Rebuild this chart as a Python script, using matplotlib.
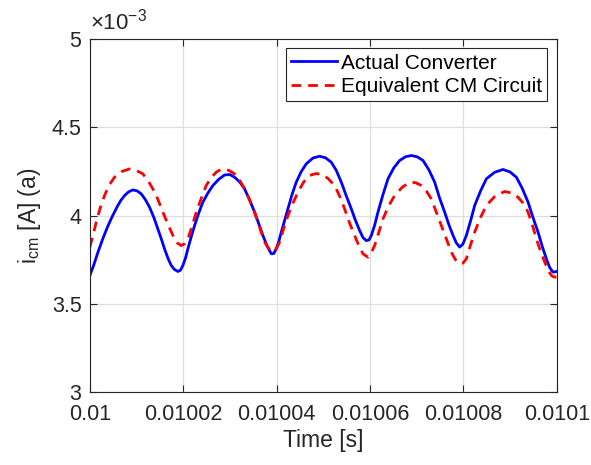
import matplotlib
matplotlib.use("Agg")
import matplotlib.pyplot as plt
import numpy as np
from matplotlib.ticker import FuncFormatter

plt.rcParams['font.family'] = ['Liberation Sans', 'DejaVu Sans']
plt.rcParams['mathtext.fontset'] = 'custom'
plt.rcParams['mathtext.rm'] = 'Liberation Sans'
plt.rcParams['mathtext.it'] = 'Liberation Sans'

# time offsets from 0.01 s in microseconds, currents in mA
t_actual_us = [0, 0.85, 1.71, 2.8, 3.86, 4.9, 6.0, 6.7, 7.43, 8.3, 9.21, 10.1, 11.0, 11.9,
               12.79, 13.7, 14.57, 15.3, 16.0, 16.7, 17.43, 18.1, 18.86, 19.4, 19.93, 20.5,
               21.0, 21.7, 22.43, 23.3, 24.21, 25.3, 26.36, 27.6, 28.86, 30.0, 31.0, 32.1,
               33.14, 34.2, 35.29, 36.2, 37.07, 38.0, 38.86, 39.4, 39.93, 40.5, 41.0, 41.7,
               42.43, 43.3, 44.21, 45.3, 46.36, 47.8, 49.21, 50.5, 51.71, 52.8, 53.86, 54.9,
               56.0, 56.9, 57.79, 58.5, 59.21, 59.8, 60.29, 61.0, 61.71, 62.8, 63.86, 65.1,
               66.36, 67.6, 68.86, 70.1, 71.36, 72.6, 73.86, 74.9, 76.0, 76.9, 77.79, 78.5,
               79.21, 79.9, 80.64, 81.5, 82.43, 83.7, 84.93, 86.7, 88.5, 90.0, 91.36, 92.6,
               93.86, 94.9, 96.0, 96.9, 97.79, 98.5, 99.21, 100]
i_actual_mA = [3.66, 3.72, 3.79, 3.87, 3.94, 4.0, 4.057, 4.088, 4.113, 4.134, 4.145, 4.14, 4.123, 4.09,
               4.047, 3.99, 3.924, 3.868, 3.811, 3.76, 3.717, 3.695, 3.683, 3.69, 3.717, 3.76,
               3.811, 3.878, 3.943, 4.012, 4.076, 4.128, 4.17, 4.205, 4.23, 4.232, 4.217, 4.19,
               4.151, 4.09, 4.019, 3.952, 3.887, 3.825, 3.783, 3.785, 3.811, 3.855, 3.906, 3.97,
               4.038, 4.118, 4.189, 4.25, 4.293, 4.326, 4.336, 4.327, 4.302, 4.255, 4.189, 4.113,
               4.038, 3.972, 3.915, 3.875, 3.858, 3.862, 3.887, 3.945, 4.019, 4.12, 4.208, 4.27,
               4.312, 4.333, 4.34, 4.333, 4.312, 4.26, 4.189, 4.10, 4.019, 3.948, 3.887, 3.845,
               3.821, 3.838, 3.887, 3.965, 4.057, 4.14, 4.208, 4.245, 4.261, 4.247, 4.217, 4.155,
               4.076, 3.99, 3.906, 3.825, 3.754, 3.705, 3.679, 3.683]

t_equiv_us = [0, 0.7, 1.36, 2.25, 3.14, 4.2, 5.29, 6.9, 8.5, 9.9, 11.36, 12.4, 13.5, 14.6,
              15.64, 16.7, 17.79, 18.7, 19.57, 20.3, 21.0, 21.9, 22.79, 23.9, 24.93, 26.0,
              27.07, 28.0, 28.86, 29.9, 31.0, 32.1, 33.14, 34.2, 35.29, 36.4, 37.43, 38.4,
              39.21, 39.9, 40.64, 41.5, 42.43, 43.5, 44.57, 45.8, 47.07, 48.3, 49.57, 51.0,
              52.43, 53.5, 54.57, 55.6, 56.71, 57.6, 58.5, 59.57, 60.3, 61.0, 61.9, 62.79,
              64.0, 65.29, 66.9, 68.5, 69.8, 71.0, 72.1, 73.14, 74.2, 75.29, 76.4, 77.43,
              78.3, 79.21, 79.9, 80.64, 81.5, 82.43, 83.7, 84.93, 86.9, 88.86, 90.3, 91.71,
              92.8, 93.86, 94.8, 95.64, 96.5, 97.43, 98.1, 98.86, 99.4, 100]
i_equiv_mA = [3.82, 3.89, 3.962, 4.045, 4.113, 4.175, 4.217, 4.25, 4.264, 4.256, 4.236, 4.2, 4.151, 4.09,
              4.019, 3.952, 3.887, 3.845, 3.83, 3.84, 3.868, 3.94, 4.019, 4.1, 4.17, 4.215,
              4.246, 4.26, 4.264, 4.254, 4.236, 4.2, 4.151, 4.09, 4.019, 3.93, 3.849, 3.81,
              3.792, 3.81, 3.849, 3.925, 4.0, 4.07, 4.132, 4.19, 4.227, 4.237, 4.236, 4.21,
              4.17, 4.11, 4.038, 3.96, 3.887, 3.83, 3.783, 3.764, 3.79, 3.83, 3.905, 3.981,
              4.055, 4.113, 4.16, 4.189, 4.186, 4.17, 4.138, 4.094, 4.02, 3.943, 3.865, 3.792,
              3.75, 3.726, 3.73, 3.754, 3.83, 3.906, 3.99, 4.057, 4.113, 4.136, 4.128, 4.104,
              4.07, 4.019, 3.945, 3.868, 3.80, 3.736, 3.695, 3.66, 3.652, 3.65]

x_ticks = [0.01, 0.01002, 0.01004, 0.01006, 0.01008, 0.0101]
x_tick_labels = ['0.01', '0.01002', '0.01004', '0.01006', '0.01008', '0.0101']
y_ticks = [3e-3, 3.5e-3, 4e-3, 4.5e-3, 5e-3]

t_actual = 0.01 + np.array(t_actual_us) * 1e-6
i_actual = np.array(i_actual_mA) * 1e-3
t_equiv = 0.01 + np.array(t_equiv_us) * 1e-6
i_equiv = np.array(i_equiv_mA) * 1e-3

fig = plt.figure(figsize=(5.91, 4.65), dpi=100)
ax = fig.add_axes([0.152, 0.157, 0.790, 0.759])

ax.plot(t_actual, i_actual, color='#0000ff', lw=2.0, label='Actual Converter',
        solid_joinstyle='round')
ax.plot(t_equiv, i_equiv, color='#ff0000', lw=2.0, linestyle=(0, (3.5, 2.5)),
        label='Equivalent CM Circuit')

ax.set_xlim(0.01, 0.0101)
ax.set_ylim(3e-3, 5e-3)
ax.set_xticks(x_ticks)
ax.set_xticklabels(x_tick_labels)
ax.set_yticks(y_ticks)
ax.yaxis.set_major_formatter(FuncFormatter(lambda v, p: f'{v * 1e3:g}'))
ax.text(0.0, 1.012, r'$\times10^{-3}$', transform=ax.transAxes, fontsize=16,
        color='#262626', ha='left', va='bottom')

ax.grid(True, color='#dfdfdf', lw=0.9)
ax.set_axisbelow(True)
ax.tick_params(direction='in', length=5, width=0.8, top=True, right=True,
               labelsize=15.5, colors='#262626')
ax.tick_params(axis='x', pad=8.5)
ax.tick_params(axis='y', pad=6)
for s in ax.spines.values():
    s.set_color('#262626')
    s.set_linewidth(0.8)

ax.set_xlabel('Time [s]', fontsize=16.5, color='#262626', labelpad=3)
ax.set_ylabel(r'$\mathrm{i_{cm}}$ [A] (a)', fontsize=16.5, color='#262626', labelpad=6)

leg = ax.legend(loc='upper right', fontsize=15, frameon=True, fancybox=False,
                edgecolor='#262626', framealpha=1, handlelength=2.2,
                handletextpad=0.2, borderpad=0.25, labelspacing=0.2,
                borderaxespad=0.45)
leg.get_frame().set_linewidth(0.8)

plt.savefig('out.png', dpi=100)
